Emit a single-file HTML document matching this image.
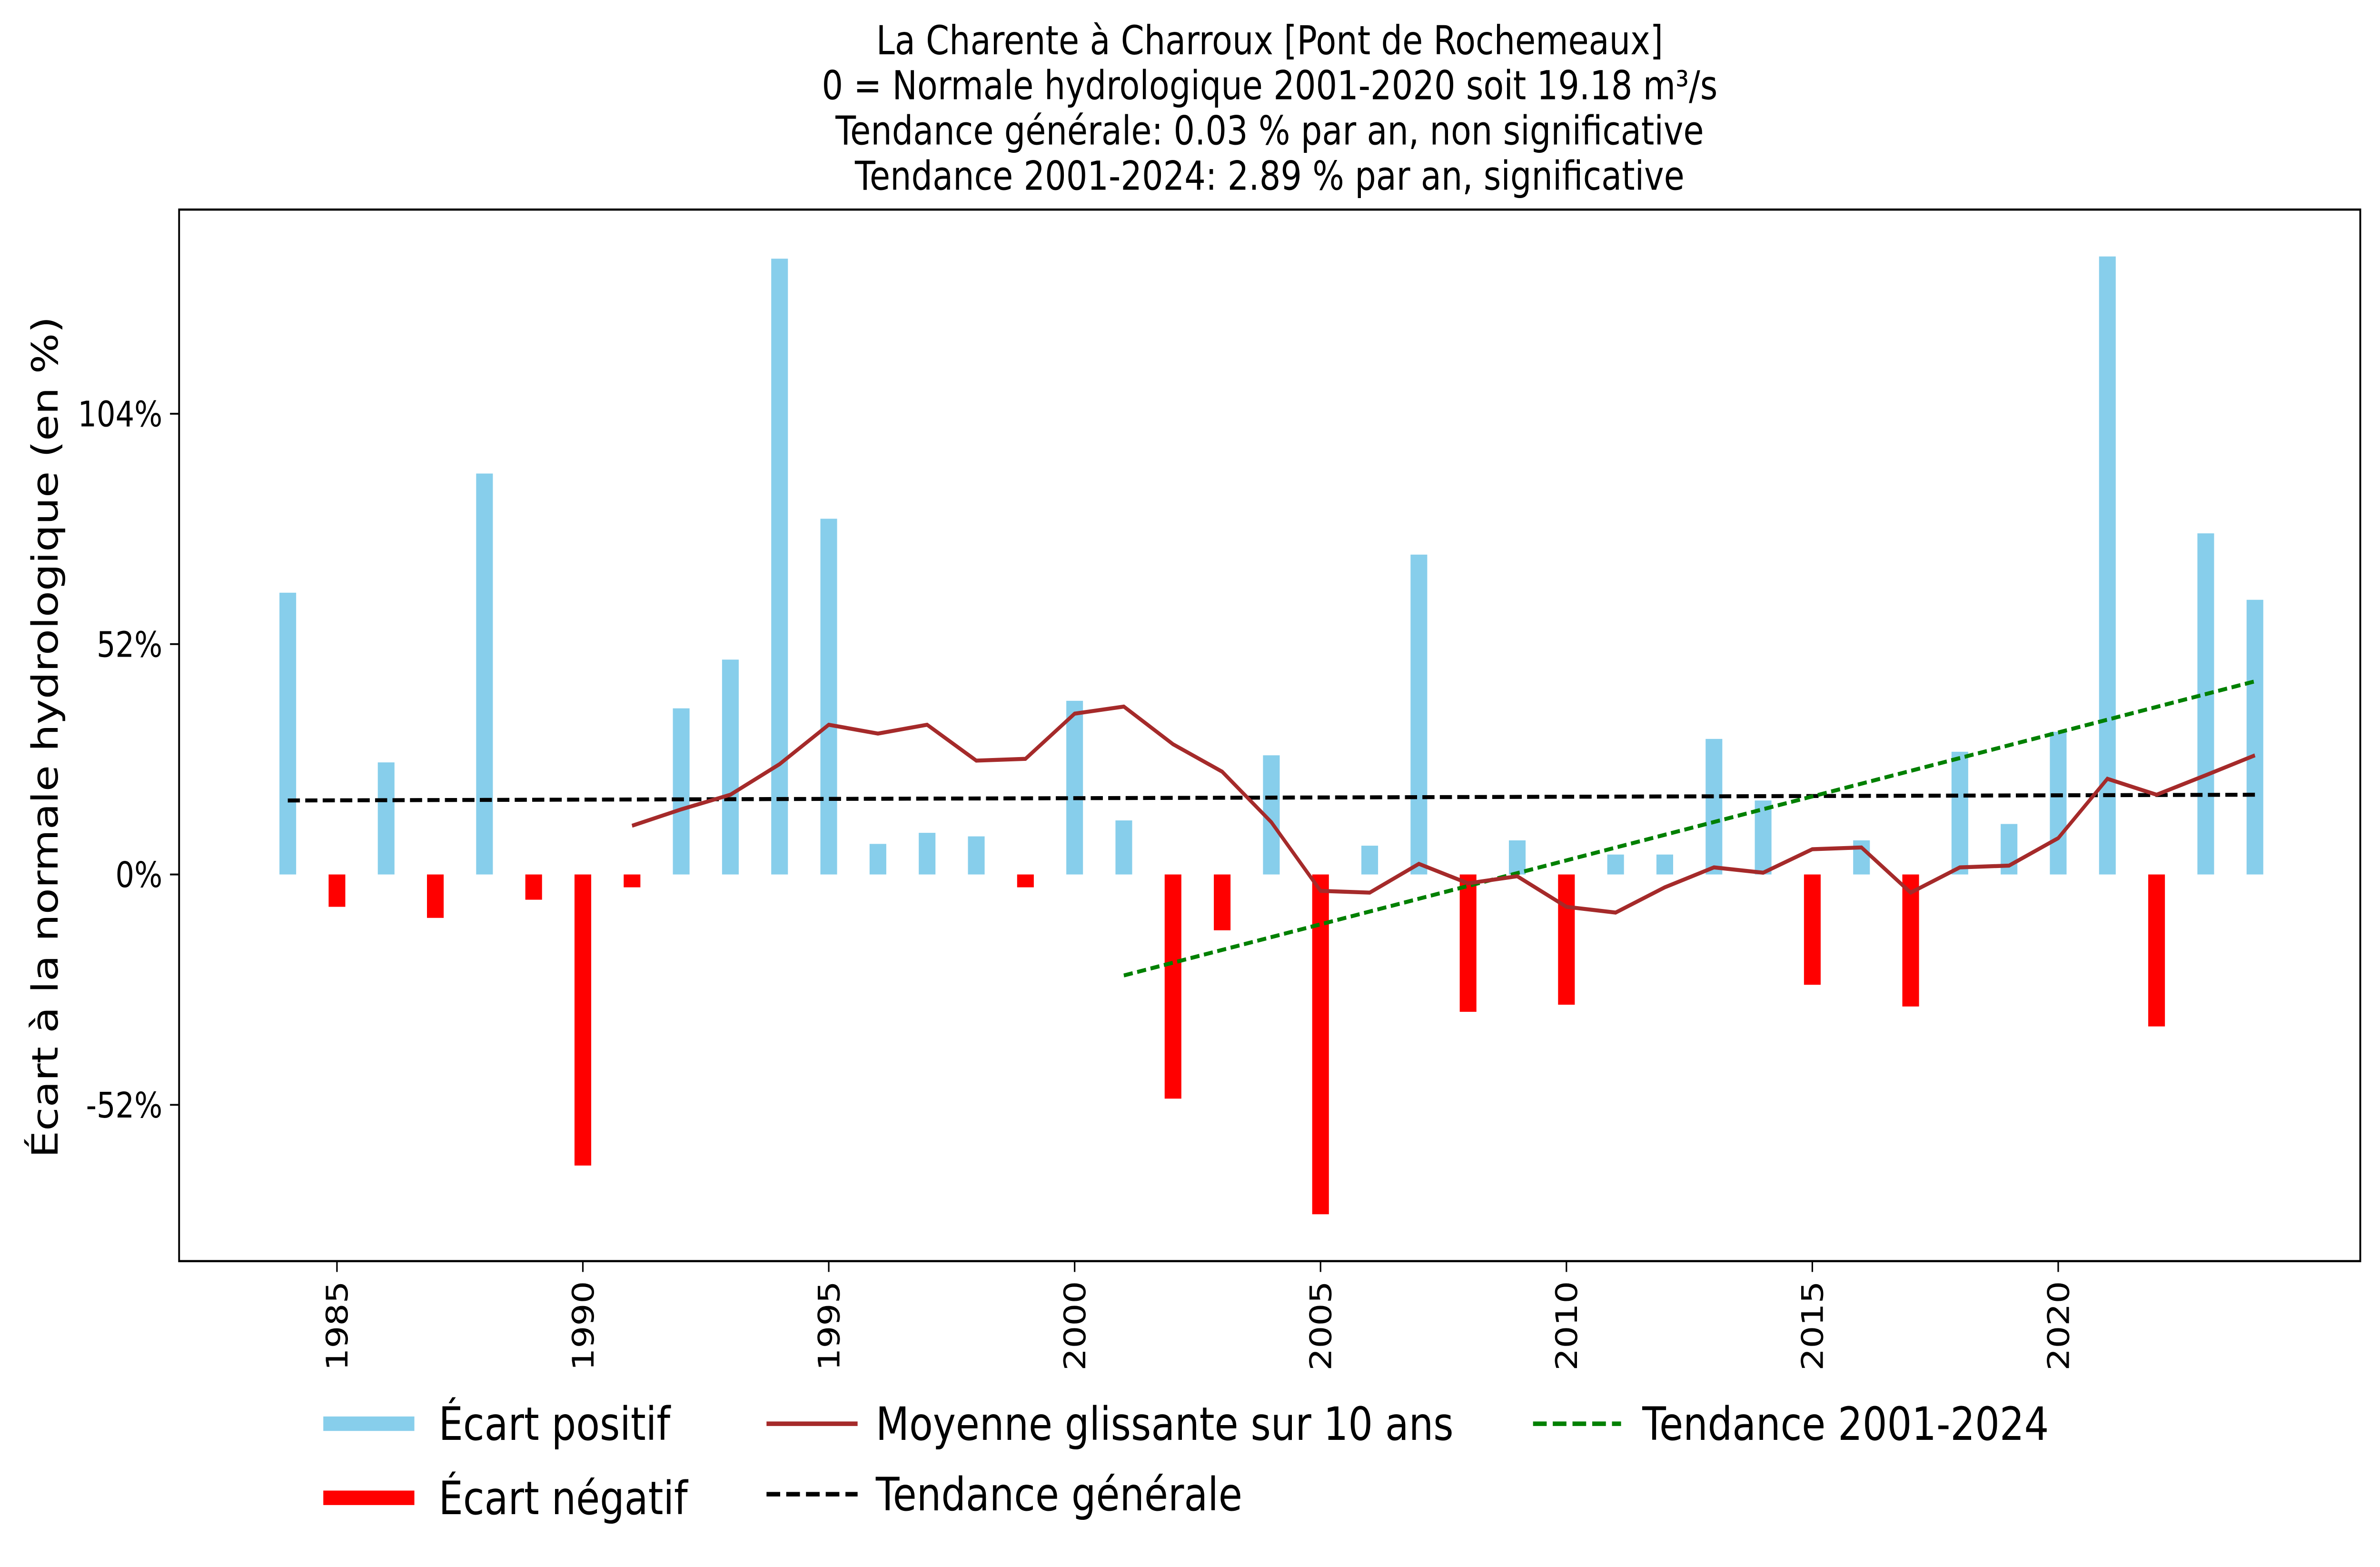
<!DOCTYPE html>
<html><head><meta charset="utf-8"><style>
html,body{margin:0;padding:0;background:#fff;overflow:hidden}
svg{display:block;width:100vw;height:100vh}
text{font-family:"DejaVu Sans","Liberation Sans",sans-serif;fill:#000}
</style></head><body>
<svg id="chart" xmlns="http://www.w3.org/2000/svg" viewBox="0 0 1568 867.3" preserveAspectRatio="none">
<rect x="0" y="0" width="1568" height="867.3" fill="#fff"/>
<g font-size="22" text-anchor="middle">
<text x="836.5" y="30">La Charente à Charroux [Pont de Rochemeaux]</text>
<text x="836.5" y="55">0 = Normale hydrologique 2001-2020 soit 19.18 m³/s</text>
<text x="836.5" y="80">Tendance générale: 0.03 % par an, non significative</text>
<text x="836.5" y="105">Tendance 2001-2024: 2.89 % par an, significative</text>
</g>
<g id="plot"></g>
<rect x="118" y="116" width="1437" height="582" fill="none" stroke="#000" stroke-width="1.2"/>
<g id="ticks"></g>
<text font-size="23.7" text-anchor="middle" transform="translate(38,408) rotate(-90)">Écart à la normale hydrologique (en %)</text>
<g font-size="25.5">
<g><line x1="213" y1="788" x2="273" y2="788" stroke="#87ceeb" stroke-width="8"/><text x="289" y="797">Écart positif</text></g>
<g><line x1="213" y1="829" x2="273" y2="829" stroke="#ff0000" stroke-width="8"/><text x="289" y="838">Écart négatif</text></g>
<g><line x1="505" y1="788" x2="565" y2="788" stroke="#a52a2a" stroke-width="2.5"/><text x="577" y="797">Moyenne glissante sur 10 ans</text></g>
<g><line x1="505" y1="827" x2="565" y2="827" stroke="#000" stroke-width="2.5" stroke-dasharray="9,4"/><text x="577" y="836">Tendance générale</text></g>
<g><line x1="1010" y1="788" x2="1068" y2="788" stroke="#008000" stroke-width="2.5" stroke-dasharray="9,4"/><text x="1082" y="797">Tendance 2001-2024</text></g>
</g>
</svg>
<script>
const years=[1984,1985,1986,1987,1988,1989,1990,1991,1992,1993,1994,1995,1996,1997,1998,1999,2000,2001,2002,2003,2004,2005,2006,2007,2008,2009,2010,2011,2012,2013,2014,2015,2016,2017,2018,2019,2020,2021,2022,2023,2024];
const deviations=[63.6,-7.3,25.3,-9.8,90.5,-5.7,-65.7,-2.9,37.5,48.5,139,80.3,6.9,9.4,8.6,-2.9,39.2,12.2,-50.6,-12.6,26.9,-76.7,6.5,72.2,-31,7.7,-29.4,4.5,4.5,30.6,16.7,-24.9,7.7,-29.8,27.7,11.4,32.2,139.5,-34.3,77,62];
const maYears=[1991,1992,1993,1994,1995,1996,1997,1998,1999,2000,2001,2002,2003,2004,2005,2006,2007,2008,2009,2010,2011,2012,2013,2014,2015,2016,2017,2018,2019,2020,2021,2022,2023,2024];
const maValues=[11,14.7,18,24.9,33.8,31.8,33.8,25.7,26.1,36.3,37.9,29.4,23.2,11.8,-3.7,-4.1,2.4,-2,-0.4,-7.3,-8.6,-2.9,1.6,0.4,5.7,6.1,-4.1,1.6,2,8.2,21.6,18,22.4,26.9];
const trendGenYears=[1984,2024];
const trendGenValues=[16.7,18];
const trend2Years=[2001,2024];
const trend2Values=[-22.8,43.6];
const yTicks=[-52,0,52,104];
const yTickLabels=["-52%","0%","52%","104%"];
const xTicks=[1985,1990,1995,2000,2005,2010,2015,2020];

const NS="http://www.w3.org/2000/svg";
const xs=y=>189.6+(y-1984)*32.4;
const ys=v=>484-v*2.452;
const plot=document.getElementById('plot');
const ticks=document.getElementById('ticks');
function mk(tag,attrs,parent){const e=document.createElementNS(NS,tag);for(const k in attrs)e.setAttribute(k,attrs[k]);parent.appendChild(e);return e;}

years.forEach((yr,i)=>{
  const v=deviations[i];
  const r=mk('rect',{x:xs(yr)-5.5,width:11,y:Math.min(ys(v),ys(0)),height:Math.abs(ys(v)-ys(0)),fill:v>=0?'#87ceeb':'#ff0000'},plot);
  
  
});
function line(xv,yv,stroke,dash,name){
  const p=mk('polyline',{points:xv.map((x,i)=>xs(x)+','+ys(yv[i])).join(' '),fill:'none',stroke:stroke,'stroke-width':2.2},plot);
  if(dash)p.setAttribute('stroke-dasharray',dash);
  
  
}
line(trendGenYears,trendGenValues,'#000','8,3.5','general-trend-line');
line(trend2Years,trend2Values,'#008000','6,3','trend-2001-2024-line');
line(maYears,maValues,'#a52a2a',null,'moving-average-line');

yTicks.forEach((v,i)=>{
  mk('line',{x1:112,x2:118,y1:ys(v),y2:ys(v),stroke:'#000','stroke-width':1},ticks);
  const t=mk('text',{x:107,y:ys(v)+7,'font-size':19.5,'text-anchor':'end'},ticks);
  t.textContent=yTickLabels[i];
  
  
});
xTicks.forEach(v=>{
  mk('line',{x1:xs(v),x2:xs(v),y1:698,y2:704,stroke:'#000','stroke-width':1},ticks);
  const t=mk('text',{'font-size':19.5,'text-anchor':'end',transform:'translate('+(xs(v)+7)+',709) rotate(-90)'},ticks);
  t.textContent=String(v);
  
  
});
</script>
</body></html>
